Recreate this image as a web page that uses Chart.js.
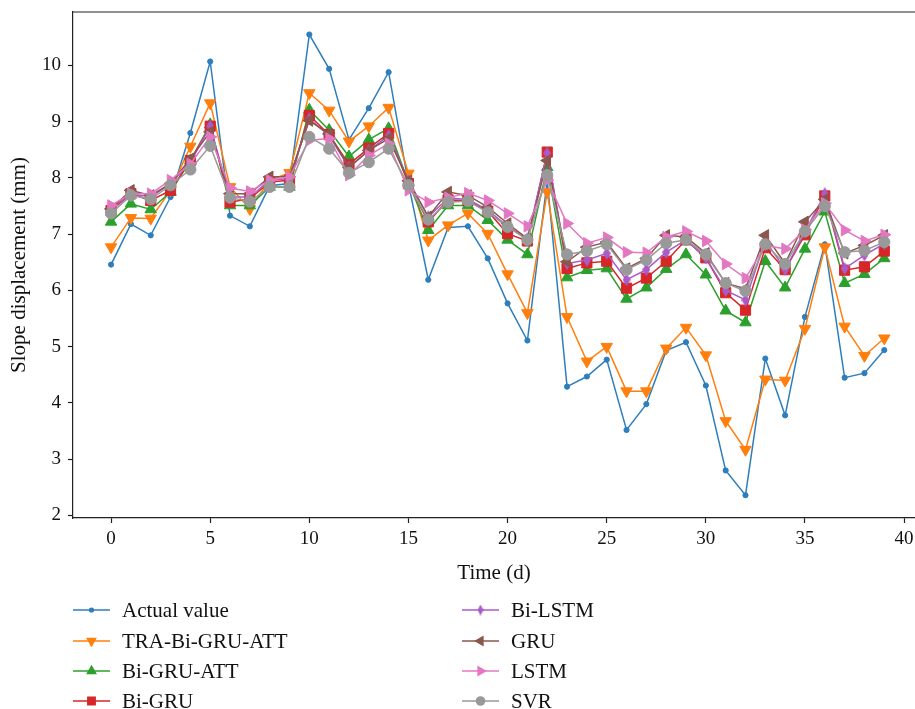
<!DOCTYPE html>
<html>
<head>
<meta charset="utf-8">
<script src="https://cdn.jsdelivr.net/npm/chart.js@4.4.1/dist/chart.umd.min.js"></script>
<style>
  body { margin: 0; background: #fff; }
  canvas { display: block; }
</style>
</head>
<body>
<canvas id="chart" width="915" height="709"></canvas>
<script>
// time axis (days) and tick values
const days = [0, 1, 2, 3, 4, 5, 6, 7, 8, 9, 10, 11, 12, 13, 14, 15, 16, 17, 18, 19,
  20, 21, 22, 23, 24, 25, 26, 27, 28, 29, 30, 31, 32, 33, 34, 35, 36, 37, 38, 39];
const xTickValues = [0, 5, 10, 15, 20, 25, 30, 35, 40];
const yTickValues = [2, 3, 4, 5, 6, 7, 8, 9, 10];

const seriesNames = ["Actual value", "TRA-Bi-GRU-ATT", "Bi-GRU-ATT", "Bi-GRU", "Bi-LSTM", "GRU", "LSTM", "SVR"];

// slope displacement (mm) per day
const actualValue = [6.46, 7.18, 6.98, 7.66, 8.80, 10.07, 7.33, 7.14, 7.86, 7.90,
  10.55, 9.94, 8.68, 9.24, 9.88, 7.90, 6.19, 7.12, 7.14, 6.57,
  5.77, 5.11, 7.95, 4.29, 4.47, 4.77, 3.52, 3.98, 4.93, 5.08,
  4.31, 2.80, 2.36, 4.79, 3.78, 5.53, 6.82, 4.45, 4.53, 4.94];
const traBiGruAtt = [6.77, 7.29, 7.28, 7.78, 8.56, 9.33, 7.84, 7.45, 7.96, 8.09,
  9.51, 9.20, 8.65, 8.92, 9.25, 8.08, 6.89, 7.16, 7.37, 7.01,
  6.29, 5.60, 7.75, 5.53, 4.74, 5.00, 4.21, 4.21, 4.97, 5.34,
  4.85, 3.68, 3.17, 4.42, 4.40, 5.32, 6.77, 5.36, 4.84, 5.15];
const biGruAtt = [7.22, 7.54, 7.44, 7.75, 8.31, 8.95, 7.51, 7.51, 7.84, 7.84,
  9.21, 8.85, 8.38, 8.68, 8.88, 7.92, 7.07, 7.51, 7.51, 7.25,
  6.90, 6.64, 8.19, 6.23, 6.36, 6.39, 5.85, 6.05, 6.38, 6.64,
  6.28, 5.64, 5.43, 6.52, 6.05, 6.74, 7.40, 6.13, 6.29, 6.57];
const biGru = [7.42, 7.72, 7.60, 7.78, 8.31, 8.92, 7.57, 7.63, 7.93, 7.96,
  9.11, 8.77, 8.24, 8.53, 8.79, 7.90, 7.22, 7.61, 7.60, 7.41,
  7.01, 6.88, 8.46, 6.39, 6.49, 6.52, 6.04, 6.22, 6.52, 6.90,
  6.58, 5.96, 5.65, 6.76, 6.37, 6.99, 7.68, 6.36, 6.42, 6.70];
const biLstm = [7.45, 7.72, 7.66, 7.90, 8.28, 8.92, 7.66, 7.66, 7.96, 7.99,
  9.05, 8.75, 8.19, 8.49, 8.75, 7.95, 7.31, 7.64, 7.62, 7.43,
  7.14, 6.92, 8.44, 6.48, 6.54, 6.66, 6.19, 6.37, 6.68, 6.90,
  6.58, 6.00, 5.83, 6.89, 6.37, 7.04, 7.72, 6.39, 6.63, 6.83];
const gru = [7.45, 7.78, 7.69, 7.90, 8.34, 8.82, 7.72, 7.72, 8.02, 8.02,
  9.02, 8.78, 8.19, 8.49, 8.70, 7.95, 7.31, 7.75, 7.69, 7.48,
  7.19, 6.92, 8.31, 6.51, 6.77, 6.86, 6.39, 6.57, 6.98, 6.95,
  6.66, 6.13, 6.03, 6.98, 6.48, 7.22, 7.62, 6.66, 6.80, 6.98];
const lstm = [7.51, 7.72, 7.72, 7.96, 8.25, 8.73, 7.82, 7.76, 7.96, 8.02,
  8.67, 8.70, 8.05, 8.40, 8.61, 7.78, 7.57, 7.65, 7.73, 7.60,
  7.37, 7.14, 7.96, 7.19, 6.84, 6.94, 6.68, 6.67, 6.95, 7.05,
  6.88, 6.47, 6.22, 6.80, 6.74, 7.08, 7.55, 7.07, 6.88, 6.99];
const svr = [7.37, 7.69, 7.62, 7.87, 8.15, 8.57, 7.65, 7.58, 7.84, 7.84,
  8.73, 8.52, 8.09, 8.28, 8.52, 7.87, 7.26, 7.57, 7.59, 7.39,
  7.13, 6.90, 8.05, 6.64, 6.70, 6.82, 6.37, 6.54, 6.84, 6.90,
  6.64, 6.13, 5.99, 6.82, 6.47, 7.05, 7.50, 6.68, 6.71, 6.86];

const seriesValues = [actualValue, traBiGruAtt, biGruAtt, biGru, biLstm, gru, lstm, svr];

// thin diamond marker (matplotlib "d")
function thinDiamond(color, w, h) {
  const c = document.createElement("canvas");
  c.width = w;
  c.height = h;
  const g = c.getContext("2d");
  g.fillStyle = color;
  g.beginPath();
  g.moveTo(w / 2, 0);
  g.lineTo(w, h / 2);
  g.lineTo(w / 2, h);
  g.lineTo(0, h / 2);
  g.closePath();
  g.fill();
  return c;
}

const styles = [
  { color: "#2e7ebc", point: "circle", rotation: 0, radius: 2.6 },
  { color: "#ff7f0e", point: "triangle", rotation: 180, radius: 6.6 },
  { color: "#2ca02c", point: "triangle", rotation: 0, radius: 6.6 },
  { color: "#d62728", point: "rect", rotation: 0, radius: 7.2 },
  { color: "#a95bc9", point: thinDiamond("#a95bc9", 8, 13), legendPoint: thinDiamond("#a95bc9", 6, 11), rotation: 0, radius: 6 },
  { color: "#8c564b", point: "triangle", rotation: 270, radius: 6.6 },
  { color: "#e377c2", point: "triangle", rotation: 90, radius: 6.6 },
  { color: "#999999", point: "circle", rotation: 0, radius: 5.6 }
];

const datasets = seriesNames.map((name, i) => ({
  label: name,
  data: days.map((d, k) => ({ x: d, y: seriesValues[i][k] })),
  borderColor: styles[i].color,
  backgroundColor: styles[i].color,
  borderWidth: 1.5,
  pointStyle: styles[i].point,
  rotation: styles[i].rotation,
  pointRadius: styles[i].radius,
  pointBorderWidth: 1,
  pointBackgroundColor: styles[i].color,
  pointBorderColor: styles[i].color,
  order: seriesNames.length - i // later series drawn on top
}));

const serif = "'Liberation Serif', 'DejaVu Serif', serif";

// top spine + two column legend under the axis
const extras = {
  id: "extras",
  afterDraw(chart) {
    const ctx = chart.ctx;
    const area = chart.chartArea;
    ctx.save();
    ctx.strokeStyle = "#222";
    ctx.lineWidth = 1.2;
    ctx.beginPath();
    ctx.moveTo(area.left, area.top);
    ctx.lineTo(area.right, area.top);
    ctx.stroke();

    const cols = [73, 462];
    const rows = [610, 641, 671, 701];
    ctx.font = "21px " + serif;
    ctx.textBaseline = "alphabetic";
    ctx.textAlign = "left";
    seriesNames.forEach((name, i) => {
      const st = styles[i];
      const x0 = cols[Math.floor(i / 4)];
      const y = rows[i % 4];
      ctx.strokeStyle = st.color;
      ctx.fillStyle = st.color;
      ctx.lineWidth = 1.5;
      ctx.beginPath();
      ctx.moveTo(x0, y);
      ctx.lineTo(x0 + 37, y);
      ctx.stroke();
      Chart.helpers.drawPoint(ctx, {
        pointStyle: st.legendPoint || st.point,
        rotation: st.rotation,
        radius: st.radius * 0.72,
        borderWidth: 1
      }, x0 + 18.5, y);
      ctx.fillStyle = "#111";
      ctx.fillText(name, x0 + 49, y + 7);
    });
    ctx.restore();
  }
};

new Chart(document.getElementById("chart"), {
  type: "line",
  data: { datasets },
  options: {
    responsive: false,
    animation: false,
    layout: { autoPadding: false, padding: { top: 12, right: 0, bottom: 123, left: 0 } },
    plugins: {
      legend: { display: false },
      tooltip: { enabled: false }
    },
    scales: {
      x: {
        type: "linear",
        min: -1.92,
        max: 40.55,
        afterBuildTicks: scale => { scale.ticks = xTickValues.map(v => ({ value: v })); },
        afterFit: scale => {
          scale.height = 68;
          scale.paddingLeft = 0;
          scale.paddingRight = 0;
        },
        border: { color: "#222", width: 1.2 },
        grid: { drawOnChartArea: false, drawTicks: true, tickLength: 5, tickColor: "#222", tickWidth: 1.2 },
        ticks: { color: "#111", font: { family: serif, size: 19 }, padding: 5, maxRotation: 0, autoSkip: false },
        title: { display: true, text: "Time (d)", color: "#111", font: { family: serif, size: 21 }, padding: { top: 0, bottom: 0 } }
      },
      y: {
        min: 1.955,
        max: 10.95,
        afterBuildTicks: scale => { scale.ticks = yTickValues.map(v => ({ value: v })); },
        afterFit: scale => {
          scale.width = 73;
          scale.paddingTop = 0;
          scale.paddingBottom = 0;
        },
        border: { color: "#222", width: 1.2 },
        grid: { drawOnChartArea: false, drawTicks: true, tickLength: 5, tickColor: "#222", tickWidth: 1.2 },
        ticks: { color: "#111", font: { family: serif, size: 19 }, padding: 7 },
        title: { display: true, text: "Slope displacement (mm)", color: "#111", font: { family: serif, size: 21 }, padding: { top: 7, bottom: 0 } }
      }
    }
  },
  plugins: [extras]
});
</script>
</body>
</html>
